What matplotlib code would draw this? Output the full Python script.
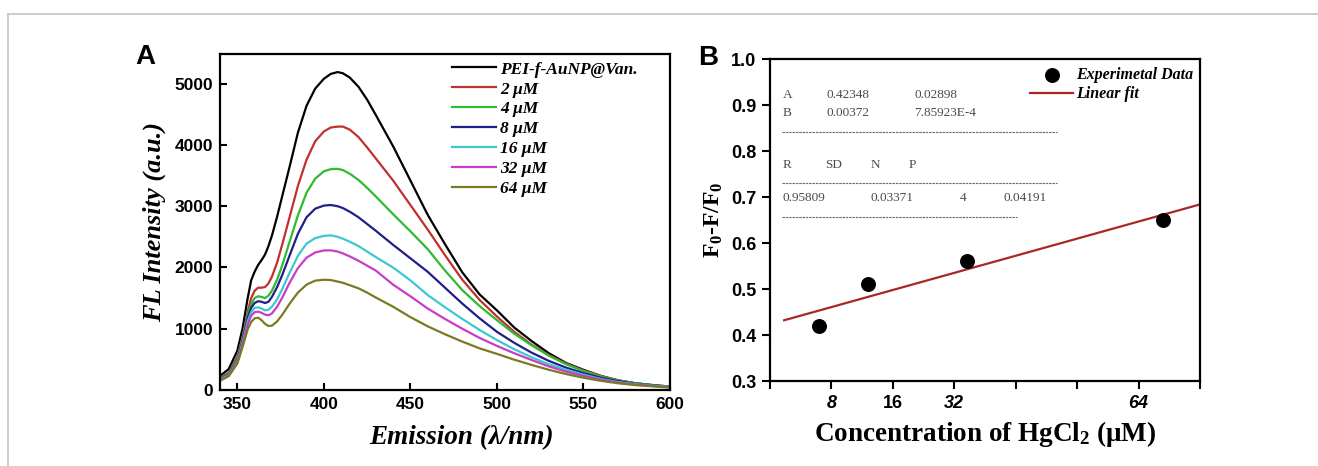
import matplotlib
matplotlib.use("Agg")
import matplotlib.pyplot as plt
from matplotlib.lines import Line2D

plt.rcParams['font.family'] = ['Liberation Sans', 'DejaVu Sans']
plt.rcParams['mathtext.fontset'] = 'custom'
plt.rcParams['mathtext.default'] = 'bf'
plt.rcParams['mathtext.bf'] = 'Liberation Serif:bold'
plt.rcParams['mathtext.rm'] = 'Liberation Serif:bold'

# ---------------- Panel A data ----------------
wavelength = [340, 345, 350, 353, 356, 358, 360, 362, 364, 366, 368, 370, 373, 376, 380,
              385, 390, 395, 400, 404, 408, 411, 415, 420, 425, 430, 440, 450, 460, 470,
              480, 490, 500, 510, 520, 530, 540, 550, 560, 570, 580, 590, 600]
fl_blank = [230, 340, 640, 1000, 1500, 1790, 1930, 2040, 2120, 2210, 2350, 2520, 2830, 3170, 3620,
            4200, 4640, 4920, 5080, 5160, 5190, 5170, 5100, 4950, 4740, 4490, 3980, 3420, 2860, 2380,
            1920, 1560, 1300, 1020, 800, 600, 440, 330, 230, 155, 110, 80, 55]
fl_2uM = [200, 280, 540, 860, 1280, 1500, 1620, 1670, 1670, 1680, 1740, 1850, 2080, 2380, 2800,
          3330, 3760, 4060, 4220, 4285, 4300, 4300, 4250, 4130, 3960, 3780, 3420, 3020, 2620, 2200,
          1800, 1470, 1200, 950, 740, 570, 430, 320, 230, 160, 110, 80, 55]
fl_4uM = [190, 265, 510, 830, 1230, 1400, 1500, 1530, 1520, 1500, 1540, 1620, 1800, 2040, 2400,
          2850, 3220, 3450, 3570, 3605, 3610, 3590, 3530, 3430, 3300, 3160, 2870, 2590, 2300, 1950,
          1630, 1370, 1140, 920, 730, 560, 420, 310, 220, 155, 110, 80, 55]
fl_8uM = [180, 255, 490, 800, 1180, 1340, 1420, 1450, 1440, 1420, 1440, 1520, 1680, 1880, 2180,
          2550, 2820, 2960, 3010, 3020, 3000, 2970, 2910, 2820, 2710, 2600, 2370, 2150, 1930, 1670,
          1410, 1170, 950, 770, 610, 475, 365, 275, 200, 145, 100, 75, 50]
fl_16uM = [170, 245, 470, 770, 1120, 1270, 1340, 1350, 1330, 1300, 1310, 1360, 1480, 1650, 1900,
           2190, 2390, 2480, 2515, 2525, 2500, 2470, 2420, 2350, 2260, 2170, 2000, 1790, 1550, 1350,
           1160, 980, 815, 665, 535, 420, 330, 250, 180, 130, 95, 70, 50]
fl_32uM = [160, 235, 450, 740, 1070, 1210, 1270, 1280, 1260, 1230, 1220, 1250, 1360, 1510, 1740,
           1990, 2160, 2245, 2278, 2280, 2260, 2230, 2180, 2110, 2030, 1950, 1720, 1530, 1330, 1160,
           1000, 850, 720, 600, 490, 385, 300, 230, 170, 120, 90, 65, 45]
fl_64uM = [150, 225, 430, 700, 990, 1110, 1170, 1180, 1140, 1080, 1045, 1050, 1120, 1230, 1400,
           1590, 1720, 1785, 1800, 1795, 1770, 1750, 1710, 1660, 1590, 1510, 1360, 1190, 1040, 910,
           790, 680, 590, 495, 410, 330, 260, 200, 150, 110, 80, 60, 40]
series_labels = ['PEI-f-AuNP@Van.', '2 μM', '4 μM', '8 μM', '16 μM', '32 μM', '64 μM']
series_values = [fl_blank, fl_2uM, fl_4uM, fl_8uM, fl_16uM, fl_32uM, fl_64uM]
series_colors = ['#000000', '#c0302e', '#2fba2f', '#1f1f8c', '#3cc8d2', '#c83cc8', '#7a7a22']
xticks_A = [350, 400, 450, 500, 550, 600]
yticks_A = [0, 1000, 2000, 3000, 4000, 5000]

# ---------------- Panel B data ----------------
conc = [8, 16, 32, 64]
quench = [0.42, 0.51, 0.56, 0.65]
fit_A = 0.42348
fit_B = 0.00372
fit_x = [2.3, 70]
xticks_B = [0, 10, 20, 30, 40, 50, 60, 70]
xticklabels_B = ['', '8', '16', '32', '', '', '64', '']
yticks_B = [0.3, 0.4, 0.5, 0.6, 0.7, 0.8, 0.9, 1.0]
stats_rows = [
    (0.9217, [('A', 2.07), ('0.42348', 9.23), ('0.02898', 23.5)]),
    (0.882, [('B', 2.07), ('0.00372', 9.23), ('7.85923E-4', 23.5)]),
    (0.7696, [('R', 2.07), ('SD', 8.95), ('N', 16.3), ('P', 22.5)]),
    (0.697, [('0.95809', 2.07), ('0.03371', 16.3), ('4', 30.9), ('0.04191', 37.98)]),
]
stats_dashes = [(0.842, 46.7), (0.730, 46.7), (0.657, 40.2)]

W, H = 1318, 466
fig = plt.figure(figsize=(W / 100, H / 100), dpi=100)

serif = ['Liberation Serif', 'DejaVu Serif']

# ---------------- Panel A ----------------
axA = fig.add_axes([220 / W, (H - 390) / H, 450 / W, 336 / H])
for vals, lab, col in zip(series_values, series_labels, series_colors):
    axA.plot(wavelength, vals, color=col, lw=1.6, label=lab)
axA.set_xlim(340, 600)
axA.set_ylim(0, 5485)
axA.set_xticks(xticks_A)
axA.set_yticks(yticks_A)
axA.tick_params(direction='in', length=5, width=1.5, labelsize=12.5, pad=5)
for lbl in axA.get_xticklabels() + axA.get_yticklabels():
    lbl.set_fontweight('bold')
for s in axA.spines.values():
    s.set_linewidth(1.6)
axA.set_xlabel('Emission (λ/nm)', family=serif, style='italic', weight='bold', fontsize=19.5)
axA.xaxis.set_label_coords(0.537, -0.105)
axA.set_ylabel('FL Intensity (a.u.)', family=serif, style='italic', weight='bold', fontsize=19, labelpad=6)
legA = axA.legend(loc='upper left', bbox_to_anchor=(0.516, 0.978), frameon=False,
                  prop={'family': serif, 'style': 'italic', 'weight': 'bold', 'size': 12.5},
                  handlelength=2.5, handletextpad=0.25, labelspacing=0.22, borderpad=0, borderaxespad=0)

# ---------------- Panel B ----------------
axB = fig.add_axes([770 / W, (H - 381) / H, 430 / W, 322 / H])
axB.plot(fit_x, [fit_A + fit_B * x for x in fit_x], color='#a82828', lw=1.6, label='Linear fit', zorder=2)
axB.scatter(conc, quench, s=95, color='black', zorder=3, label='Experimetal Data')
axB.set_xlim(0, 70)
axB.set_ylim(0.3, 1.0)
axB.set_xticks(xticks_B)
axB.set_xticklabels(xticklabels_B)
axB.set_yticks(yticks_B)
axB.set_yticklabels([f'{v:.1f}' for v in yticks_B])
axB.tick_params(direction='out', length=6, width=1.5, labelsize=13, pad=4)
for lbl in axB.get_xticklabels() + axB.get_yticklabels():
    lbl.set_fontweight('bold')
for lbl in axB.get_xticklabels():
    if lbl.get_text() in ('8', '32', '64'):
        lbl.set_style('italic')
for s in axB.spines.values():
    s.set_linewidth(1.6)
axB.set_xlabel('Concentration of HgCl$_2$ (μM)', family=serif, weight='bold', fontsize=19.5, labelpad=5)
axB.set_ylabel('F$_0$-F/F$_0$', family=serif, weight='bold', fontsize=17, labelpad=4)

for y, items in stats_rows:
    for txt, x in items:
        axB.text(x, y, txt, family=serif, fontsize=9.5, color='#4a4a4a', va='center', ha='left')
for y, xend in stats_dashes:
    axB.plot([2.0, xend], [y, y], color='#6a6a6a', lw=0.8, dashes=(2.2, 0.8))

handles, labels = axB.get_legend_handles_labels()
legB = axB.legend(handles[::-1], labels[::-1], loc='upper left', bbox_to_anchor=(0.605, 0.975),
                  frameon=False,
                  prop={'family': serif, 'style': 'italic', 'weight': 'bold', 'size': 11.5},
                  handlelength=2.7, handletextpad=0.15, labelspacing=0.2, borderpad=0, borderaxespad=0,
                  scatterpoints=1)

# panel letters
fig.text(145 / W, 1 - 57 / H, 'A', fontsize=20, weight='bold', ha='center', va='center')
fig.text(708 / W, 1 - 58 / H, 'B', fontsize=20, weight='bold', ha='center', va='center')

# page frame lines (top and left)
fig.add_artist(Line2D([7.5 / W, 1.0], [1 - 13.5 / H, 1 - 13.5 / H], transform=fig.transFigure,
                      color='#c4c4c4', lw=1.2))
fig.add_artist(Line2D([7.5 / W, 7.5 / W], [0.0, 1 - 13.5 / H], transform=fig.transFigure,
                      color='#c4c4c4', lw=1.2))

fig.savefig('out.png', dpi=100)
